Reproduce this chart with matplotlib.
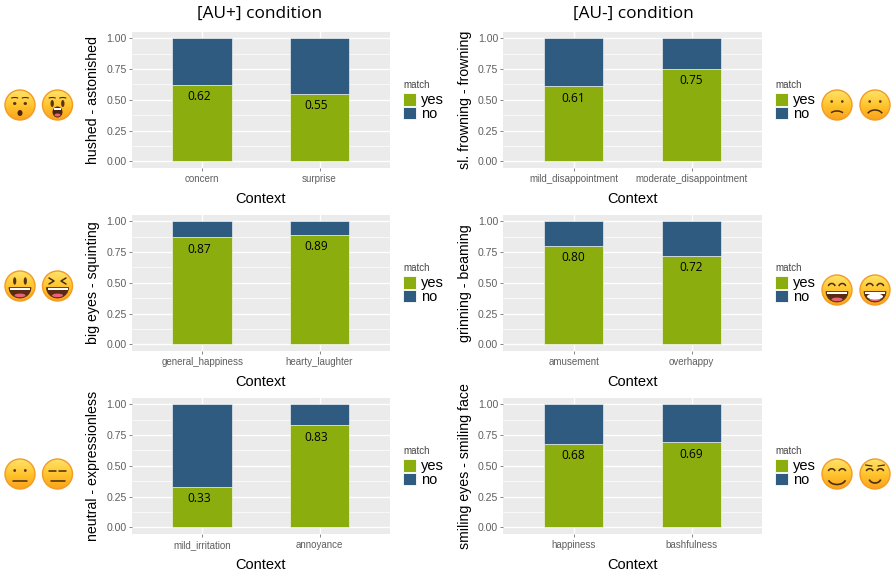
import numpy as np
import matplotlib
matplotlib.use("Agg")
import matplotlib.pyplot as plt
from matplotlib.patches import Circle, Ellipse, Rectangle, Polygon, Arc

W, H = 891, 573

contexts_left = [["concern", "surprise"],
                 ["general_happiness", "hearty_laughter"],
                 ["mild_irritation", "annoyance"]]
contexts_right = [["mild_disappointment", "moderate_disappointment"],
                  ["amusement", "overhappy"],
                  ["happiness", "bashfulness"]]
yes_left = [[0.62, 0.55], [0.87, 0.89], [0.33, 0.83]]
yes_right = [[0.61, 0.75], [0.80, 0.72], [0.68, 0.69]]
ylabels_left = ["hushed - astonished", "big eyes - squinting", "neutral - expressionless"]
ylabels_right = ["sl. frowning - frowning", "grinning - beaming", "smiling eyes - smiling face"]
titles = ["[AU+] condition", "[AU-] condition"]
yticks = [0.00, 0.25, 0.50, 0.75, 1.00]
minor_yticks = [0.125, 0.375, 0.625, 0.875]
emoji_left = [["hushed", "astonished"], ["bigeyes", "squint"], ["neutral", "expressionless"]]
emoji_right = [["slfrown", "frown"], ["grin", "beam"], ["smile", "blush"]]

GREEN = "#8CAD0E"
BLUE = "#2F5B80"
SANS = "Liberation Sans"
panel_tops = [32, 215, 398]
panel_h = 135.5
col_x = [(131.7, 390), (503, 762.3)]

fig = plt.figure(figsize=(W / 100, H / 100), dpi=100)


def draw_panel(left, right, top, cats, yes, ylabel, ylab_x, ctx_x, label_dx):
    ax = fig.add_axes([left / W, 1 - (top + panel_h) / H, (right - left) / W, panel_h / H])
    ax.set_facecolor("#EBEBEB")
    x = np.arange(2)
    no = [1 - v for v in yes]
    ax.bar(x, yes, width=0.505, color=GREEN, edgecolor="white", linewidth=0.4, zorder=3)
    ax.bar(x, no, width=0.505, bottom=yes, color=BLUE, edgecolor="white", linewidth=0.4, zorder=3)
    for i, v in enumerate(yes):
        ax.annotate(f"{v:.2f}", (i, v), xytext=(label_dx, -8.6), textcoords="offset points",
                    ha="center", va="center", fontsize=8.6, family="Open Sans", color="black", zorder=4)
    ax.set_xlim(-0.6, 1.6)
    ax.set_ylim(-0.05, 1.05)
    ax.set_xticks(x)
    ax.set_xticklabels(cats, fontsize=7, color="#5F5F5F", family=SANS)
    ax.set_yticks(yticks)
    ax.set_yticklabels([f"{t:.2f}" for t in yticks], fontsize=7.6, color="#5F5F5F", family=SANS)
    ax.set_yticks(minor_yticks, minor=True)
    ax.tick_params(axis="both", which="major", length=2, width=0.5, color="#555555", pad=1.5)
    ax.tick_params(axis="x", pad=2.5)
    ax.tick_params(axis="y", which="minor", length=0)
    ax.grid(True, which="major", color="white", linewidth=1.0, zorder=0)
    ax.grid(True, which="minor", axis="y", color="white", linewidth=0.5, zorder=0)
    ax.set_axisbelow(True)
    for s in ax.spines.values():
        s.set_visible(False)
    fig.text(ylab_x / W, 1 - (top + panel_h / 2) / H, ylabel, rotation=90, ha="center", va="center",
             fontsize=10.2, family=SANS, color="black")
    fig.text(ctx_x / W, 1 - (top + 167) / H, "Context", ha="center", va="center",
             fontsize=10.5, family=SANS, color="black")


for r in range(3):
    draw_panel(*col_x[0], panel_tops[r], contexts_left[r], yes_left[r], ylabels_left[r], 93, 260, -2.2)
    draw_panel(*col_x[1], panel_tops[r], contexts_right[r], yes_right[r], ylabels_right[r], 465, 633, -0.4)

fig.text(260 / W, 1 - 14 / H, titles[0], ha="center", va="center", fontsize=12.4, family="Open Sans")
fig.text(633 / W, 1 - 14 / H, titles[1], ha="center", va="center", fontsize=12.4, family="Open Sans")

# overlay in pixel coordinates for legends and emoji
ov = fig.add_axes([0, 0, 1, 1], zorder=10)
ov.patch.set_alpha(0)
ov.axis("off")

yy, xx = np.mgrid[-1:1:64j, -1:1:64j]
grad = np.clip((yy + 1) / 2, 0, 1)
face_cmap = matplotlib.colors.LinearSegmentedColormap.from_list("face", ["#FFE36B", "#FFC52E", "#FBA21C"])
DARK = "#4A2C10"


def arc(cx, cy, w, h, t1, t2, lw=1.0, color=DARK):
    ov.add_patch(Arc((cx, cy), w, h, theta1=t1, theta2=t2, lw=lw, color=color, zorder=4))


def line(xs, ys, lw=1.0, color=DARK):
    ov.plot(xs, ys, color=color, lw=lw, solid_capstyle="round", zorder=4)


def open_mouth(cx, cy, teeth=True, w=19, h=11):
    # half-disc mouth, y grows downward in the overlay
    t = np.linspace(0, np.pi, 30)
    pts = np.c_[cx + w / 2 * np.cos(t), cy + h * np.sin(t)]
    ov.add_patch(Polygon(pts, closed=True, fc="#5B2A12", ec=DARK, lw=0.5, zorder=3))
    if teeth:
        ov.add_patch(Rectangle((cx - w / 2 + 1, cy), w - 2, 2.8, fc="white", ec="none", zorder=4))
    ov.add_patch(Ellipse((cx, cy + h - 2.6), w * 0.5, 3.6, fc="#E8637A", ec="none", zorder=4))


def draw_emoji(cx, cy, kind, r=15):
    im = ov.imshow(grad, cmap=face_cmap, extent=(cx - r, cx + r, cy + r, cy - r), zorder=1, vmin=0, vmax=1)
    clip = Circle((cx, cy), r, transform=ov.transData)
    im.set_clip_path(clip)
    ov.add_patch(Circle((cx, cy), r, fc="none", ec="#F59A23", lw=1.0, zorder=2))
    ex = 5.3
    if kind in ("hushed", "astonished"):
        eh = 3 if kind == "hushed" else 7
        for s in (-1, 1):
            ov.add_patch(Ellipse((cx + s * ex, cy - 1.5), 3.4, eh, fc="#5B3413", ec="none", zorder=3))
            arc(cx + s * ex, cy - 5.5, 9, 4, 200, 340, lw=0.8)
        if kind == "hushed":
            ov.add_patch(Ellipse((cx, cy + 8), 5, 6, fc="#4A2410", ec="none", zorder=3))
        else:
            ov.add_patch(Ellipse((cx, cy + 7), 10, 11, fc="#4A2410", ec="none", zorder=3))
            ov.add_patch(Rectangle((cx - 3.5, cy + 2.5), 7, 2, fc="white", ec="none", zorder=4))
            ov.add_patch(Ellipse((cx, cy + 10), 6, 3, fc="#E8637A", ec="none", zorder=4))
    elif kind in ("slfrown", "frown"):
        for s in (-1, 1):
            ov.add_patch(Circle((cx + s * ex, cy - 3.5), 1.3, fc="#5B3413", ec="none", zorder=3))
        if kind == "slfrown":
            arc(cx, cy + 10, 14, 8, 200, 340, lw=1.1)
        else:
            arc(cx, cy + 11, 16, 12, 200, 340, lw=1.1)
    elif kind in ("neutral", "expressionless"):
        for s in (-1, 1):
            if kind == "neutral":
                ov.add_patch(Circle((cx + s * ex, cy - 3.5), 1.4, fc="#5B3413", ec="none", zorder=3))
            else:
                line([cx + s * ex - 3.5, cx + s * ex + 3.5], [cy - 3, cy - 3], lw=1.1)
        line([cx - 7, cx + 7], [cy + 6.5, cy + 6.5], lw=1.1)
    elif kind in ("bigeyes", "squint", "grin", "beam"):
        for s in (-1, 1):
            if kind == "bigeyes":
                ov.add_patch(Ellipse((cx + s * ex, cy - 5), 3.2, 7.5, fc="#5B3413", ec="none", zorder=3))
            elif kind == "squint":
                line([cx + s * 8.5, cx + s * 3.5, cx + s * 8.5], [cy - 8, cy - 5, cy - 2], lw=1.1)
            else:
                arc(cx + s * ex, cy - 3, 7, 7, 195, 345, lw=1.1)
        open_mouth(cx, cy + 1.5, teeth=True, w=22, h=10.5)
        if kind == "beam":
            ov.add_patch(Ellipse((cx, cy + 6.5), 16, 6, fc="white", ec="none", zorder=5))
    else:
        for s in (-1, 1):
            arc(cx + s * ex, cy - 2, 7, 6.5, 195, 345, lw=1.1)
            if kind == "blush":
                line([cx + s * 9.5, cx + s * 3], [cy - 9, cy - 8], lw=0.9)
        w, h = (18, 13) if kind == "smile" else (12, 10)
        arc(cx, cy + 4, w, h, 15, 165, lw=1.2)


def draw_legend(x, top):
    ov.text(x, top - 8, "match", fontsize=7, family=SANS, color="#444444", va="center", ha="left")
    ov.add_patch(Rectangle((x, top), 13, 13, fc=GREEN, ec="white", lw=0.6))
    ov.add_patch(Rectangle((x, top + 14), 13, 12, fc=BLUE, ec="white", lw=0.6))
    ov.text(x + 18, top + 7, "yes", fontsize=10.5, family=SANS, va="center", ha="left")
    ov.text(x + 18, top + 21, "no", fontsize=10.5, family=SANS, va="center", ha="left")


emoji_y_left = [105, 286, 474]
emoji_y_right = [105, 290, 474]
for r in range(3):
    draw_legend(403, 93 + 183 * r)
    draw_legend(775, 93 + 183 * r)
    draw_emoji(20, emoji_y_left[r], emoji_left[r][0])
    draw_emoji(57.5, emoji_y_left[r], emoji_left[r][1])
    draw_emoji(837, emoji_y_right[r], emoji_right[r][0])
    draw_emoji(875, emoji_y_right[r], emoji_right[r][1])

ov.set_xlim(0, W)
ov.set_ylim(H, 0)
ov.set_aspect("auto")

fig.savefig("out.png", dpi=100, facecolor="white")
